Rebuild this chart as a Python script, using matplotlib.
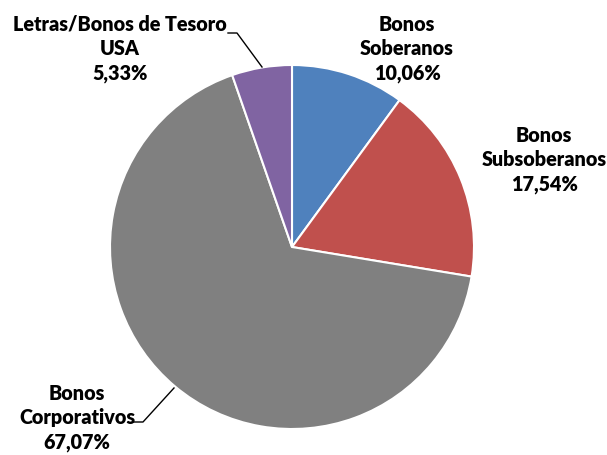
import matplotlib
matplotlib.use('Agg')
import matplotlib.pyplot as plt

# Data
categories = ['Bonos\nSoberanos', 'Bonos\nSubsoberanos', 'Bonos\nCorporativos',
              'Letras/Bonos de Tesoro\nUSA']
values = [10.06, 17.54, 67.07, 5.33]
value_labels = ['10,06%', '17,54%', '67,07%', '5,33%']
colors = ['#4F81BD', '#C0504D', '#808080', '#8064A2']

W, H = 607, 455

fig = plt.figure(figsize=(W / 100, H / 100), dpi=100, facecolor='white')
ax = fig.add_axes([0, 0, 1, 1])

# pie centre / radius in pixel coords (y measured from the bottom)
cx, cy, r = 292, H - 247, 182
ax.pie(values, colors=colors, startangle=90, counterclock=False,
       center=(cx, cy), radius=r, frame=True,
       wedgeprops=dict(edgecolor='white', linewidth=1.5))
ax.set_xlim(0, W)
ax.set_ylim(0, H)
ax.set_aspect('equal')
ax.axis('off')

# label positions (x, y of middle line, in pixels from top)
label_pos = [(407, 49), (544, 160), (77, 418), (120, 49)]
for cat, val, (lx, ly) in zip(categories, value_labels, label_pos):
    ax.text(lx, H - ly, cat + '\n' + val, ha='center', va='center',
            fontsize=14.2, fontweight='heavy', family=['Lato', 'DejaVu Sans'],
            linespacing=1.33, color='black')

# leader lines
ax.plot([228, 237, 262], [H - 33, H - 33, H - 67], color='black', lw=1)
ax.plot([133, 143, 174], [H - 422, H - 422, H - 388], color='black', lw=1)

fig.savefig('out.png', dpi=100, facecolor='white')
